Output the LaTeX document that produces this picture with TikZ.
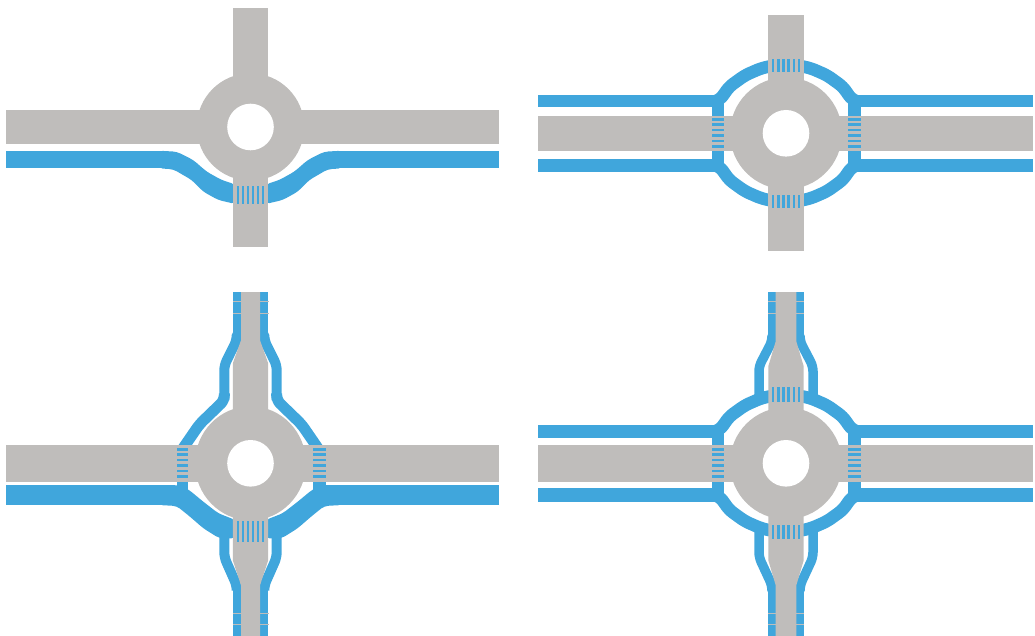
\documentclass[tikz,border=0pt]{standalone}
\definecolor{bl}{HTML}{40A6DC}
\definecolor{gy}{HTML}{BFBDBB}
\tikzset{
 x=1pt,y=-1pt,
 road/.style={fill=gy,draw=none},
 path strip/.style={fill=bl,draw=none},
 path area/.style={fill=bl,draw=none,rounded corners=4pt},
 band/.style={draw=bl,line width=#1,line join=round,rounded corners=5pt},
 band/.default=12.5,
 hole/.style={fill=white,draw=none},
 stripe/.style={fill=bl,draw=none},
 pale/.style={fill=gy,draw=none}
}
% stripes across a vertical road: args = y0,y1
\newcommand\vst[2]{\foreach \o in {-12.7,-7.6,-2.5,2.5,7.6,12.7}{\fill[stripe] (\o-1.1,#1) rectangle (\o+1.1,#2);}}
% stripes across a horizontal road at side: args = x0,x1
\newcommand\hst[2]{\foreach \o in {-14,-8.6,-3.2,2.2,7.6,13}{\fill[stripe] (#1,\o-1.25) rectangle (#2,\o+1.25);}}
\newcommand\arcq{\draw[band] (-70,-32.3) -- (-66,-33.5) -- (-56.7,-46.7) -- (-41,-58) -- (-25,-65) -- (-16,-67);}
\newcommand\allarcs{%
 \foreach \sx/\sy in {1/1,-1/1,1/-1,-1/-1}{\begin{scope}[xscale=\sx,yscale=\sy]\arcq\end{scope}}}
\begin{document}
\begin{tikzpicture}
\useasboundingbox (0,0) rectangle (1035,636);
% ---------- panel A
\begin{scope}[shift={(250.5,127)}]
 \fill[path strip] (-244.5,23.7) rectangle (-85,41.3);
 \fill[path strip] (85,23.7) rectangle (248.5,41.3);
 \foreach \sx in {1,-1}{\begin{scope}[xscale=\sx]
  \fill[path area] (-92,23.7) -- (-73.8,24.7) -- (-57.2,33) -- (-43.8,44.7) -- (-28.8,53) -- (-15,57.5)
    -- (-15,77) -- (-32.2,73) -- (-47.2,64.7) -- (-58.8,53) -- (-77.2,42.3) -- (-92,41.3) -- cycle;
 \end{scope}}
 \fill[road] (0,0) circle (53.7);
 \fill[road] (-244.5,-17) rectangle (248.5,17);
 \fill[road] (-17.7,-119) rectangle (17.7,120);
 \fill[hole] (0,0) circle (23.3);
 \vst{59}{77}
\end{scope}
% ---------- panel B
\begin{scope}[shift={(786,133.3)}]
 \fill[path strip] (-248,-38) rectangle (-70,-26.5);
 \fill[path strip] (70,-38) rectangle (247,-26.5);
 \fill[path strip] (-248,26) rectangle (-70,38.7);
 \fill[path strip] (70,26) rectangle (247,38.7);
 \allarcs
 \fill[path strip] (-74.3,-38) rectangle (-61.7,38);
 \fill[path strip] (61.7,-38) rectangle (74.7,38);
 \fill[road] (0,0) circle (56);
 \fill[road] (-248,-17.3) rectangle (247,17.7);
 \fill[road] (-17.7,-118.3) rectangle (17.7,117.7);
 \fill[hole] (0,0) circle (23.3);
 \vst{-74.3}{-61.7}
 \vst{61.7}{74.3}
 \hst{-74.3}{-61.7}
 \hst{61.7}{74.7}
\end{scope}
% ---------- panel C
\begin{scope}[shift={(250.5,463.3)}]
 \fill[path strip] (-244.5,21.7) rectangle (-85,41.7);
 \fill[path strip] (85,21.7) rectangle (248.5,41.7);
 \fill[path strip] (-73.8,0) rectangle (-62.2,30);
 \fill[path strip] (62.2,0) rectangle (75.2,30);
 \foreach \sx in {1,-1}{\begin{scope}[xscale=\sx]
  \fill[path area] (-92,21.7) -- (-73.8,21.7) -- (-62.2,26) -- (-47.2,38.4) -- (-32.2,50) -- (-15,56.7)
    -- (-15,75) -- (-31.2,75) -- (-47.2,65) -- (-60.5,53.4) -- (-73.8,42.7) -- (-92,41.7) -- cycle;
  \fill[path strip] (-17.8,-171.3) rectangle (-9,-120);
  \fill[path strip] (-17.8,122) rectangle (-9,172.7);
  \draw[band=10] (-13.8,-127) -- (-13.8,-123) -- (-26.2,-98) -- (-26.2,-63);
  \draw[band=11] (-26.2,-70) -- (-26.2,-63) -- (-51,-39) -- (-67.5,-15);
  \draw[band=10] (-26.2,70) -- (-26.2,94) -- (-13.8,122) -- (-13.8,127);
 \end{scope}}
 \fill[road] (0,0) ellipse (55.5 and 57);
 \fill[road] (-244.5,-18.3) rectangle (248.5,18.7);
 \fill[road] (-9.5,-171.3) -- (-9.5,-123) -- (-17.7,-100) -- (-17.7,97) -- (-9.5,122) -- (-9.5,172.7) -- (9.5,172.7) -- (9.5,122) -- (17.7,97) -- (17.7,-100) -- (9.5,-123) -- (9.5,-171.3) -- cycle;
 \fill[hole] (0,0) circle (23.3);
 \vst{57.5}{78.5}
 \hst{-73.8}{-62.2}
 \hst{62.2}{75.2}
 \foreach \sx in {1,-1}{\begin{scope}[xscale=\sx]
  \foreach \yy in {-162,-150,150,161}{\fill[pale] (-18,\yy-.8) rectangle (-9.5,\yy+.8);}
 \end{scope}}
\end{scope}
% ---------- panel D
\begin{scope}[shift={(786,463.3)}]
 \fill[path strip] (-248,-38) rectangle (-70,-25.7);
 \fill[path strip] (70,-38) rectangle (247,-25.7);
 \fill[path strip] (-248,25) rectangle (-70,38.4);
 \fill[path strip] (70,25) rectangle (247,38.4);
 \allarcs
 \fill[path strip] (-74.3,-38) rectangle (-61.7,38);
 \fill[path strip] (61.7,-38) rectangle (74.7,38);
 \foreach \sx in {1,-1}{\begin{scope}[xscale=\sx]
  \fill[path strip] (-17.8,-171.3) rectangle (-9.5,-120);
  \fill[path strip] (-17.8,122) rectangle (-9.5,172.7);
  \draw[band=9.5] (-14,-126) -- (-14,-122) -- (-27,-97) -- (-27,-62);
  \draw[band=9.5] (-27,62) -- (-27,94) -- (-14,122) -- (-14,126);
 \end{scope}}
 \fill[road] (0,0) circle (56);
 \fill[road] (-248,-18.3) rectangle (247,18.7);
 \fill[road] (-10.3,-171.3) -- (-10.3,-122) -- (-17.7,-97) -- (-17.7,97) -- (-10.3,122) -- (-10.3,172.7) -- (10.3,172.7) -- (10.3,122) -- (17.7,97) -- (17.7,-97) -- (10.3,-122) -- (10.3,-171.3) -- cycle;
 \fill[hole] (0,0) circle (23.3);
 \vst{-76.6}{-61.6}
 \vst{61.7}{76}
 \hst{-74.3}{-61.7}
 \hst{61.7}{74.7}
 \foreach \sx in {1,-1}{\begin{scope}[xscale=\sx]
  \foreach \yy in {-162,-150,150,161}{\fill[pale] (-18,\yy-.8) rectangle (-10.3,\yy+.8);}
 \end{scope}}
\end{scope}
\end{tikzpicture}
\end{document}
